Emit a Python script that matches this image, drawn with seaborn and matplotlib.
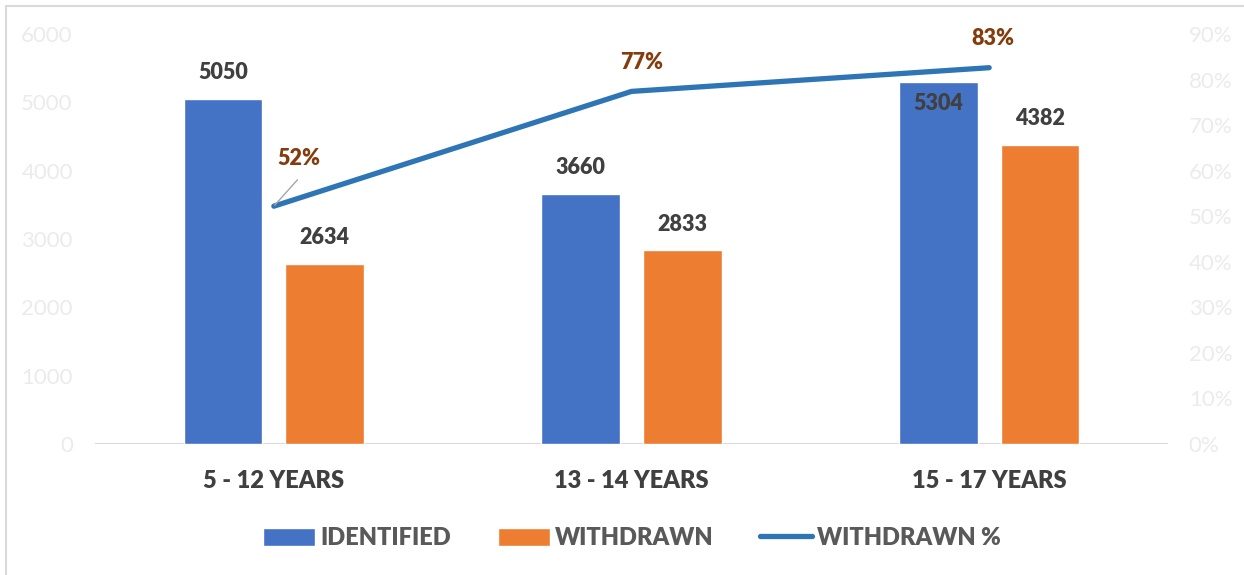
import numpy as np
import pandas as pd
import matplotlib as mpl
import matplotlib.pyplot as plt
from matplotlib.patches import Rectangle, Patch
from matplotlib.lines import Line2D
from matplotlib.ticker import PercentFormatter
import seaborn as sns

sns.set_style('white')
mpl.rcParams['font.family'] = ['Lato', 'DejaVu Sans']

# data
age_groups = ['5 - 12 YEARS', '13 - 14 YEARS', '15 - 17 YEARS']
identified = [5050, 3660, 5304]
withdrawn = [2634, 2833, 4382]
withdrawn_pct = [0.522, 0.774, 0.826]
pct_labels = ['52%', '77%', '83%']
series = ['IDENTIFIED', 'WITHDRAWN']

df = pd.DataFrame({
    'group': age_groups * 2,
    'series': [series[0]] * 3 + [series[1]] * 3,
    'value': identified + withdrawn,
})

BLUE = '#4472C4'
ORANGE = '#ED7D31'
LINE = '#2E75B6'
TXT = '#404040'
PCT = '#843C0C'
GRID = '#D9D9D9'
TICK = '#EBEBEB'
W = 'heavy'

fig = plt.figure(figsize=(12.44, 5.75), dpi=100)
ax = fig.add_axes([95 / 1244, 1 - 444 / 575, 1073 / 1244, 410 / 575])

sns.barplot(data=df, x='group', y='value', hue='series', order=age_groups,
            hue_order=series, palette=[BLUE, ORANGE], width=0.568, gap=0.225,
            saturation=1, ax=ax, legend=False)
ax.set_xlim(-0.5, 2.5)
ax.set_ylim(0, 6000)
ax.set_yticks(np.arange(0, 6001, 1000))
ax.set_xlabel('')
ax.set_ylabel('')
for s in ax.spines.values():
    s.set_visible(False)
ax.axhline(0, color=GRID, lw=1.5, zorder=0)
ax.tick_params(axis='y', colors=TICK, labelsize=16, length=0, pad=16)
ax.tick_params(axis='x', length=0, pad=19)
for lab in ax.get_xticklabels():
    lab.set_fontsize(17)
    lab.set_fontweight(W)
    lab.set_color(TXT)

# bar value labels
for ci, cont in enumerate(ax.containers):
    for bi, bar in enumerate(cont):
        h = bar.get_height()
        dy = -16 if (ci == 0 and bi == 2) else 19
        ax.annotate(f'{int(round(h))}', (bar.get_x() + bar.get_width() / 2, h),
                    xytext=(0, dy), textcoords='offset points',
                    ha='center', va='center', fontsize=15.5, fontweight=W,
                    color=TXT)

# percentage line on the right axis
ax2 = ax.twinx()
xpos = np.arange(len(age_groups))
sns.lineplot(x=xpos, y=withdrawn_pct, color=LINE, lw=3.8, ax=ax2,
             solid_capstyle='round')
ax2.set_ylim(0, 0.9)
ax2.set_yticks(np.arange(0, 0.91, 0.1))
ax2.yaxis.set_major_formatter(PercentFormatter(1.0, decimals=0))
ax2.tick_params(axis='y', colors=TICK, labelsize=16, length=0, pad=15)
for s in ax2.spines.values():
    s.set_visible(False)

offsets = [(18, 34), (7, 21), (3, 21)]
for i, (x, y) in enumerate(zip(xpos, withdrawn_pct)):
    ax2.annotate(pct_labels[i], (x, y), xytext=offsets[i],
                 textcoords='offset points', ha='center', va='center',
                 fontsize=15.5, fontweight=W, color=PCT)
# leader line for the first label
ax2.annotate('', (xpos[0], withdrawn_pct[0]), xytext=(17, 19),
             textcoords='offset points',
             arrowprops=dict(arrowstyle='-', color='#A6A6A6', lw=1,
                             shrinkA=0, shrinkB=1))

# legend
handles = [Patch(facecolor=BLUE, label='IDENTIFIED'),
           Patch(facecolor=ORANGE, label='WITHDRAWN'),
           Line2D([], [], color=LINE, lw=3.8, solid_capstyle='round',
                  label='WITHDRAWN %')]
leg = fig.legend(handles=handles, loc='center', bbox_to_anchor=(632 / 1244, 1 - 538 / 575),
                 ncol=3, frameon=False, handlelength=2.2, handleheight=0.8,
                 handletextpad=0.2, columnspacing=2.0,
                 prop=dict(size=17, weight=W))
for t in leg.get_texts():
    t.set_color('#595959')

# chart border
fig.patches.append(Rectangle((6 / 1244, -0.1), 1.2, 1 - 6 / 575 + 0.1,
                             transform=fig.transFigure, fill=False,
                             edgecolor=GRID, lw=1.5))

fig.savefig('out.png', dpi=100)
